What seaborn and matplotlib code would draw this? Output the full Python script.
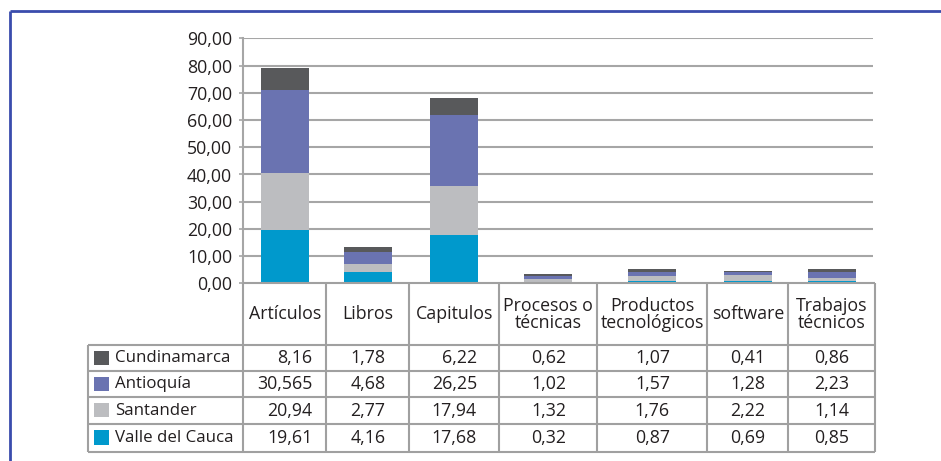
import matplotlib
matplotlib.use("Agg")
import matplotlib.pyplot as plt
import seaborn as sns
import numpy as np

# Data
categories = ["Artículos", "Libros", "Capitulos", "Procesos o\ntécnicas",
              "Productos\ntecnológicos", "software", "Trabajos\ntécnicos"]
series_names = ["Cundinamarca", "Antioquía", "Santander", "Valle del Cauca"]
cundinamarca = [8.16, 1.78, 6.22, 0.62, 1.07, 0.41, 0.86]
antioquia = [30.565, 4.68, 26.25, 1.02, 1.57, 1.28, 2.23]
santander = [20.94, 2.77, 17.94, 1.32, 1.76, 2.22, 1.14]
valle = [19.61, 4.16, 17.68, 0.32, 0.87, 0.69, 0.85]
value_labels = [
    ["8,16", "1,78", "6,22", "0,62", "1,07", "0,41", "0,86"],
    ["30,565", "4,68", "26,25", "1,02", "1,57", "1,28", "2,23"],
    ["20,94", "2,77", "17,94", "1,32", "1,76", "2,22", "1,14"],
    ["19,61", "4,16", "17,68", "0,32", "0,87", "0,69", "0,85"],
]
yticks = [0, 10, 20, 30, 40, 50, 60, 70, 80, 90]
ytick_labels = ["0,00", "10,00", "20,00", "30,00", "40,00", "50,00",
                "60,00", "70,00", "80,00", "90,00"]

colors = {"Cundinamarca": "#58595b", "Antioquía": "#6a73b1",
          "Santander": "#bcbdc0", "Valle del Cauca": "#0099cc"}
grid_col = "#a6a6a6"
text_col = "#231f20"

sns.set_theme(style="white")
plt.rcParams["font.family"] = ["Open Sans", "DejaVu Sans"]
FS = 12.8
FS_ROW = 12.2

W, H = 941, 461
fig = plt.figure(figsize=(W / 100, H / 100), dpi=100)

# Table column widths (pixels) and plot geometry
col_w = [83, 83, 90, 98, 110, 81, 87]
x0 = 243.3
y_zero, y_top = 283.3, 38.5
edges = np.concatenate([[0], np.cumsum(col_w)])
centers = (edges[:-1] + edges[1:]) / 2
total_w = edges[-1]

ax = fig.add_axes([x0 / W, 1 - y_zero / H, total_w / W, (y_zero - y_top) / H])

# Stacked bars: draw cumulative totals from the top layer down
layers = [valle, santander, antioquia, cundinamarca]
layer_names = ["Valle del Cauca", "Santander", "Antioquía", "Cundinamarca"]
cum = np.cumsum(np.array(layers), axis=0)
min_gap = np.min(np.diff(centers))
for i in range(len(layers) - 1, -1, -1):
    sns.barplot(x=centers, y=cum[i], native_scale=True, orient="x",
                color=colors[layer_names[i]], saturation=1, width=48 / min_gap,
                errorbar=None, linewidth=0, ax=ax, zorder=3)

ax.set_xlim(0, total_w)
ax.set_ylim(0, 90)
ax.set_yticks(yticks)
ax.set_yticklabels(ytick_labels, fontsize=FS, color=text_col)
ax.set_xticks([])
ax.set_xlabel("")
ax.set_ylabel("")
for y in yticks[1:]:
    ax.plot([0, total_w - 2], [y, y], color=grid_col, lw=1.5, zorder=1,
            solid_capstyle="butt")
for s in ["top", "right", "bottom"]:
    ax.spines[s].set_visible(False)
ax.spines["left"].set_color(grid_col)
ax.spines["left"].set_linewidth(1.5)
ax.tick_params(axis="y", length=3, width=1.2, color=grid_col, pad=5,
               left=True, direction="out")
ax.set_facecolor("none")

# Overlay in pixel coordinates for the data table and frame
ov = fig.add_axes([0, 0, 1, 1])
ov.set_xlim(0, W)
ov.set_ylim(H, 0)
ov.axis("off")
ov.set_facecolor("none")

lc = "#a0a0a0"
lw = 1.5
row_y = [345.0, 370.7, 396.9, 423.5, 451.7]
label_left = 87.7
xe = x0 + edges
# header block
ov.plot([xe[0], xe[-1]], [y_zero, y_zero], color=lc, lw=lw, solid_capstyle="butt")
for x in xe:
    ov.plot([x, x], [y_zero, row_y[-1]], color=lc, lw=lw, solid_capstyle="butt")
for y in row_y:
    ov.plot([label_left, xe[-1]], [y, y], color=lc, lw=lw, solid_capstyle="butt")
ov.plot([label_left, label_left], [row_y[0], row_y[-1]], color=lc, lw=lw,
        solid_capstyle="butt")

# header labels
for c, lab in zip(centers, categories):
    ov.text(x0 + c, (y_zero + row_y[0]) / 2, lab, ha="center", va="center",
            fontsize=FS, color=text_col, linespacing=0.92)

# row labels with colour keys
for r, name in enumerate(series_names):
    yc = (row_y[r] + row_y[r + 1]) / 2
    ov.add_patch(plt.Rectangle((94, yc - 7.2), 15, 14.4, color=colors[name], lw=0))
    ov.text(115, yc + 0.5, name, ha="left", va="center", fontsize=FS_ROW,
            color=text_col)

# values: right-aligned as a block centred in each column
renderer = fig.canvas.get_renderer()
for j, c in enumerate(centers):
    texts = []
    for r in range(len(series_names)):
        yc = (row_y[r] + row_y[r + 1]) / 2
        t = ov.text(x0 + c, yc + 0.5, value_labels[r][j], ha="center", va="center",
                    fontsize=FS, color=text_col)
        texts.append(t)
    maxw = max(t.get_window_extent(renderer).width for t in texts)
    for t in texts:
        t.set_ha("right")
        t.set_x(x0 + c + maxw / 2)

# outer blue frame
frame_col = "#3a4cad"
ov.plot([10.5, W], [11.5, 11.5], color=frame_col, lw=2, solid_capstyle="butt")
ov.plot([10.5, 10.5], [11.5, H], color=frame_col, lw=2, solid_capstyle="butt")

fig.savefig("out.png", dpi=100, facecolor="white")
